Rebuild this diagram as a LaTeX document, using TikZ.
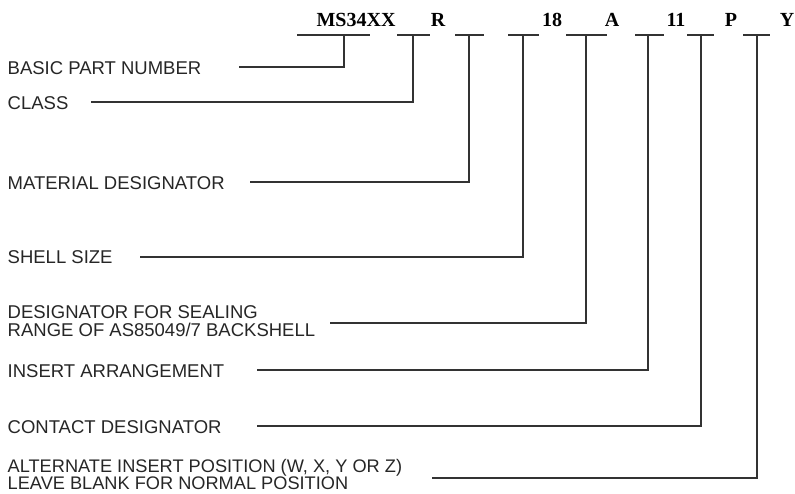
\documentclass[tikz,border=0pt]{standalone}
\usepackage{fontspec}
\setmainfont{Liberation Sans}
\newfontfamily\tmsfont{Liberation Serif}
\begin{document}
\begin{tikzpicture}[x=1pt,y=-1pt,
  lbl/.style={anchor=base west,inner sep=0pt,text=black!85,font=\fontsize{18.5}{18.5}\selectfont},
  code/.style={anchor=base,inner sep=0pt,text=black,font=\tmsfont\bfseries\fontsize{20}{20}\selectfont},
  wire/.style={draw=black!80,line width=1.6pt},
  bar/.style={draw=black!80,line width=1.6pt}]
\useasboundingbox (0,0) rectangle (795,493);
% top codes
\node[code] (cms) at (356,26.2) {MS34XX};
\node[code] (cr) at (438,26.2) {R};
\node[code] (c18) at (552,26.2) {18};
\node[code] (ca) at (612,26.2) {A};
\node[code] (c11) at (676,26.2) {11};
\node[code] (cp) at (731,26.2) {P};
\node[code] (cy) at (787,26.2) {Y};
% T tops
\coordinate (t1) at (344,35);
\coordinate (t2) at (413,35);
\coordinate (t3) at (469,35);
\coordinate (t4) at (523,35);
\coordinate (t5) at (586,35);
\coordinate (t6) at (648,35);
\coordinate (t7) at (701,35);
\coordinate (t8) at (757,35);
\draw[bar] ([xshift=-47pt]t1) -- ([xshift=26pt]t1);
\draw[bar] ([xshift=-16pt]t2) -- ([xshift=17pt]t2);
\draw[bar] ([xshift=-14pt]t3) -- ([xshift=15pt]t3);
\draw[bar] ([xshift=-15pt]t4) -- ([xshift=16pt]t4);
\draw[bar] ([xshift=-20pt]t5) -- ([xshift=21pt]t5);
\draw[bar] ([xshift=-13pt]t6) -- ([xshift=16pt]t6);
\draw[bar] ([xshift=-14pt]t7) -- ([xshift=13pt]t7);
\draw[bar] ([xshift=-14pt]t8) -- ([xshift=13pt]t8);
% labels
\node[lbl] (basic) at (7.5,74.6) {BASIC PART NUMBER};
\node[lbl] (class) at (7.5,109.6) {CLASS};
\node[lbl] (mat) at (7.5,189) {MATERIAL DESIGNATOR};
\node[lbl] (shell) at (7.5,263.6) {SHELL SIZE};
\node[lbl] (seal1) at (7.5,318.6) {DESIGNATOR FOR SEALING};
\node[lbl] (seal2) at (7.5,336) {RANGE OF AS85049/7 BACKSHELL};
\node[lbl] (ins) at (7.5,377) {INSERT ARRANGEMENT};
\node[lbl] (cont) at (7.5,433.6) {CONTACT DESIGNATOR};
\node[lbl,font=\fontsize{18.2}{18.2}\selectfont] (alt1) at (7.5,472) {ALTERNATE INSERT POSITION (W, X, Y OR Z)};
\node[lbl,font=\fontsize{18.2}{18.2}\selectfont] (alt2) at (7.5,489) {LEAVE BLANK FOR NORMAL POSITION};
% connector starts
\coordinate (s1) at (239,67);
\coordinate (s2) at (91,102);
\coordinate (s3) at (250,182);
\coordinate (s4) at (140,257);
\coordinate (s5) at (330,323);
\coordinate (s6) at (257,370);
\coordinate (s7) at (257,426);
\coordinate (s8) at (432,478);
\draw[wire] (s1) -| (t1);
\draw[wire] (s2) -| (t2);
\draw[wire] (s3) -| (t3);
\draw[wire] (s4) -| (t4);
\draw[wire] (s5) -| (t5);
\draw[wire] (s6) -| (t6);
\draw[wire] (s7) -| (t7);
\draw[wire] (s8) -| (t8);
\end{tikzpicture}
\end{document}
